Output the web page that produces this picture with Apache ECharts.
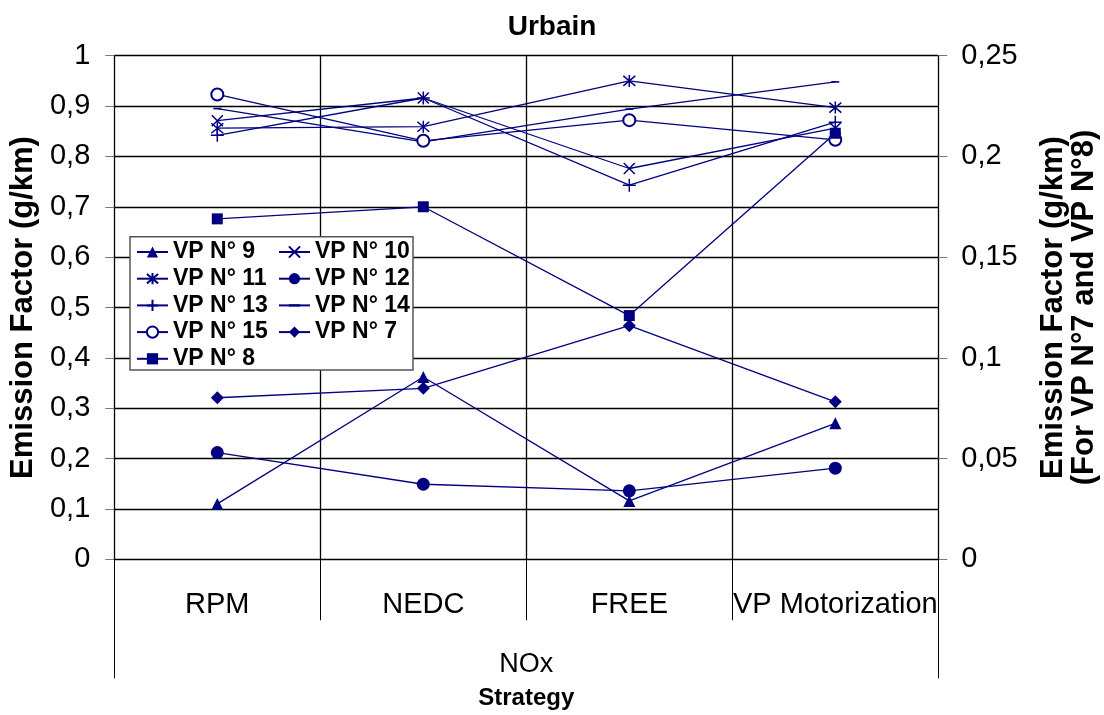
<!DOCTYPE html>
<html>
<head>
<meta charset="utf-8">
<script src="https://cdn.jsdelivr.net/npm/echarts@6/dist/echarts.min.js"></script>
<style>html,body{margin:0;padding:0;background:#fff;}#c{width:1104px;height:715px;}</style>
</head>
<body>
<div id="c"></div>
<script>
const categories = ['RPM', 'NEDC', 'FREE', 'VP Motorization'];
const groupLabels = ['NOx'];
const leftTicks = [0, 0.1, 0.2, 0.3, 0.4, 0.5, 0.6, 0.7, 0.8, 0.9, 1];
const rightTicks = [0, 0.05, 0.1, 0.15, 0.2, 0.25];

// left axis series
const vp9  = [0.110, 0.362, 0.116, 0.270];
const vp10 = [0.871, 0.916, 0.776, 0.856];
const vp11 = [0.856, 0.859, 0.950, 0.897];
const vp12 = [0.212, 0.149, 0.136, 0.181];
const vp13 = [0.842, 0.916, 0.743, 0.868];
const vp14 = [0.895, 0.829, 0.894, 0.948];
const vp15 = [0.923, 0.831, 0.872, 0.833];
// right axis series
const vp7  = [0.0802, 0.0849, 0.116, 0.0782];
const vp8  = [0.169, 0.175, 0.121, 0.2115];

const NAVY = '#000080';
const FONT = 'Arial, "Liberation Sans", sans-serif';
const comma = v => String(Number(v.toFixed(2))).replace('.', ',');

function mk(name, data, symbol, size, yIdx, extra) {
  return Object.assign({
    name: name, type: 'line', data: data, yAxisIndex: yIdx,
    symbol: symbol, symbolSize: size,
    lineStyle: {color: NAVY, width: 1.3},
    itemStyle: {color: NAVY, borderColor: NAVY, borderWidth: 0},
    emphasis: {disabled: true},
    z: 2
  }, extra || {});
}
const strokeStyle = {itemStyle: {color: NAVY, borderColor: NAVY, borderWidth: 1.5}};

const series = [
  mk('VP N° 9', vp9, 'triangle', 12, 0),
  mk('VP N° 10', vp10, 'path://M0,0L10,10M10,0L0,10', 11, 0, strokeStyle),
  mk('VP N° 11', vp11, 'path://M0,0L10,10M10,0L0,10M5,-1L5,11', 12, 0, strokeStyle),
  mk('VP N° 12', vp12, 'circle', 13, 0),
  mk('VP N° 13', vp13, 'path://M5,0L5,10M0,5L10,5', 13, 0, strokeStyle),
  mk('VP N° 14', vp14, 'path://M0,0M10,10M0,4L10,4L10,6L0,6Z', 8, 0),
  mk('VP N° 15', vp15, 'emptyCircle', 12, 0, {itemStyle: {color: NAVY, borderColor: NAVY, borderWidth: 1.5}}),
  mk('VP N° 7', vp7, 'diamond', 13, 1),
  mk('VP N° 8', vp8, 'rect', 11, 1)
];

const legendText = {fontSize: 23, fontWeight: 'bold', color: '#000', fontFamily: FONT, lineHeight: 26};
const legendBase = {orient: 'vertical', padding: 0, itemGap: 0.7, itemWidth: 31, itemHeight: 14,
  textStyle: legendText, z: 10, selectedMode: false, inactiveColor: NAVY};

const chart = echarts.init(document.getElementById('c'), null, {renderer: 'canvas'});
chart.setOption({
  animation: false,
  backgroundColor: '#fff',
  textStyle: {fontFamily: FONT},
  title: {text: 'Urbain', left: 'center', top: 13, padding: 0,
    textStyle: {fontSize: 28, fontWeight: 'bold', color: '#000', fontFamily: FONT}},
  grid: {left: 114.3, right: 165.7, top: 55.7, bottom: 155.7, containLabel: false, outerBoundsMode: 'none'},
  graphic: [{type: 'rect', shape: {x: 130, y: 236.7, width: 283, height: 133.3},
    style: {fill: '#fff', stroke: '#555', lineWidth: 1.5}, z: 3}],
  legend: [
    Object.assign({left: 136, top: 239, data: ['VP N° 9', 'VP N° 11', 'VP N° 13', 'VP N° 15', 'VP N° 8']}, legendBase),
    Object.assign({left: 278, top: 239, data: ['VP N° 10', 'VP N° 12', 'VP N° 14', 'VP N° 7']}, legendBase)
  ],
  xAxis: [
    {type: 'category', data: categories, position: 'bottom', boundaryGap: true,
      axisLine: {show: true, lineStyle: {color: '#000', width: 1}},
      axisTick: {show: true, length: 61, lineStyle: {color: '#000', width: 1}},
      axisLabel: {fontSize: 29, color: '#000', margin: 31, fontFamily: FONT, interval: 0},
      splitLine: {show: true, lineStyle: {color: '#000', width: 1.3}}},
    {type: 'category', data: groupLabels, position: 'bottom', boundaryGap: true,
      axisLine: {show: false},
      axisTick: {show: true, length: 119, lineStyle: {color: '#000', width: 1}},
      axisLabel: {fontSize: 27, color: '#000', margin: 92, fontFamily: FONT},
      splitLine: {show: false},
      name: 'Strategy', nameLocation: 'middle', nameGap: 127,
      nameTextStyle: {fontSize: 24, fontWeight: 'bold', color: '#000', fontFamily: FONT}}
  ],
  yAxis: [
    {type: 'value', min: leftTicks[0], max: leftTicks[leftTicks.length - 1], interval: 0.1,
      position: 'left',
      axisLine: {show: true, lineStyle: {color: '#000', width: 1}},
      axisTick: {show: true, length: 9, lineStyle: {color: '#777', width: 1}},
      axisLabel: {fontSize: 29, color: '#000', margin: 24, fontFamily: FONT, formatter: comma},
      splitLine: {show: true, lineStyle: {color: '#000', width: 1.3}},
      name: 'Emission Factor (g/km)', nameLocation: 'middle', nameRotate: 90, nameGap: 63,
      nameTextStyle: {fontSize: 31, fontWeight: 'bold', color: '#000', fontFamily: FONT}},
    {type: 'value', min: rightTicks[0], max: rightTicks[rightTicks.length - 1], interval: 0.05,
      position: 'right',
      axisLine: {show: true, lineStyle: {color: '#000', width: 1}},
      axisTick: {show: true, length: 9, lineStyle: {color: '#777', width: 1}},
      axisLabel: {fontSize: 29, color: '#000', margin: 23, fontFamily: FONT, formatter: comma},
      splitLine: {show: false},
      name: 'Emission Factor (g/km)\n(For VP N°7 and VP N°8)', nameLocation: 'middle', nameRotate: 90, nameGap: 100,
      nameTextStyle: {fontSize: 31, fontWeight: 'bold', color: '#000', fontFamily: FONT, lineHeight: 31}}
  ],
  series: series
});
</script>
</body>
</html>
